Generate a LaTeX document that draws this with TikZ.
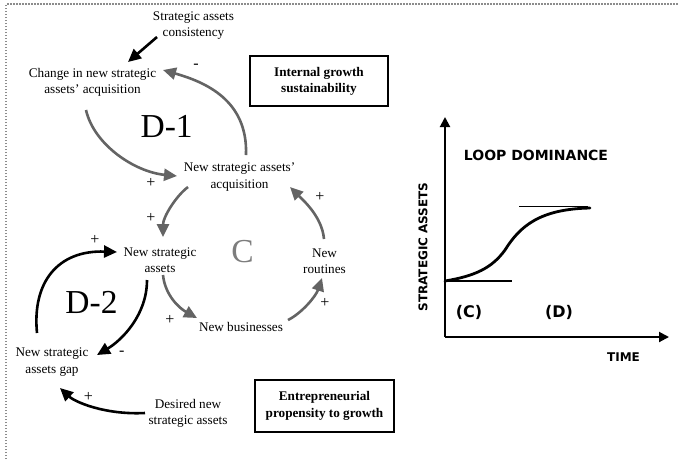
\documentclass[tikz,border=0pt]{standalone}
\usepackage{fontspec}
\setmainfont{Liberation Serif}
\newfontfamily\chartfont{DejaVu Sans}
\usetikzlibrary{arrows.meta}
\definecolor{linkgray}{RGB}{100,100,100}
\definecolor{loopgray}{RGB}{125,125,125}
\definecolor{framegray}{RGB}{140,140,140}
\tikzset{
  varlabel/.style={font=\fontsize{13.2}{16.3}\selectfont, align=center, inner sep=0pt},
  looplabel/.style={font=\fontsize{33.5}{36}\selectfont, inner sep=0pt},
  polarity/.style={font=\fontsize{16}{18}\selectfont, inner sep=0pt},
  notebox/.style={draw, line width=1.8pt, align=center, inner sep=0pt,
    font=\bfseries\fontsize{13.2}{16.3}\selectfont},
  causal/.style={line width=2.6pt, -{Triangle[length=13pt,width=12pt]}},
  blacklink/.style={causal, draw=black},
  graylink/.style={causal, draw=linkgray},
  charttext/.style={font=\chartfont\bfseries\fontsize{14}{16}\selectfont, inner sep=0pt},
  phasetext/.style={font=\chartfont\bfseries\fontsize{16}{18}\selectfont, inner sep=0pt},
  axislabel/.style={font=\chartfont\bfseries\fontsize{12}{14}\selectfont, inner sep=0pt},
  chartaxis/.style={line width=2pt, -{Triangle[length=10pt,width=10pt]}},
}
\begin{document}
\begin{tikzpicture}[x=1pt, y=-1pt]
\useasboundingbox (0,0) rectangle (679,459);

% dotted frame on the top and left edges
\draw[framegray, line width=1.3pt, dash pattern=on 1.5pt off 1.5pt]
  (6,459) -- (6,4) -- (679,4);

% ---------- causal loop diagram ----------
\node[varlabel] (sac)  at (193.5,25.5) {Strategic assets\\consistency};
\node[varlabel] (chg)  at (92.5,82.5)  {Change in new strategic\\assets' acquisition};
\node[varlabel] (nsaa) at (239.5,177)  {New strategic assets'\\acquisition};
\node[varlabel] (nsa)  at (160,260)    {New strategic\\assets};
\node[varlabel] (rout) at (324.5,261)  {New\\routines};
\node[varlabel] (nbus) at (241,327)    {New businesses};
\node[varlabel] (gap)  at (52,362)     {New strategic\\assets gap};
\node[varlabel] (des)  at (188,413.5)  {Desired new\\strategic assets};

\node[looplabel] (d1) at (166.7,126) {D-1};
\node[looplabel] (d2) at (91.5,302.5) {D-2};
\node[looplabel, text=loopgray] (cl) at (242.5,251.5) {C};

\node[notebox, minimum width=138pt, minimum height=50pt] (box1) at (319,81)
  {Internal growth\\sustainability};
\node[notebox, minimum width=139pt, minimum height=52pt] (box2) at (324.5,406)
  {Entrepreneurial\\propensity to growth};

% links
\draw[blacklink] ([shift={(-36.5,11.5)}]sac.center) -- ([shift={(35.5,-20.5)}]chg.center);
\draw[graylink] ([shift={(-6.5,27.5)}]chg.center)
  .. controls +(8,35) and +(-42,-4) .. ([shift={(-62.5,-1)}]nsaa.center);
\draw[graylink] ([shift={(6.5,-22)}]nsaa.center)
  .. controls +(2,-55) and +(42,12) .. ([shift={(70.5,-12.5)}]chg.center);
\draw[graylink] ([shift={(-51.5,10)}]nsaa.center)
  .. controls +(-12,9) and +(0,-20) .. ([shift={(3,-23)}]nsa.center);
\draw[graylink] ([shift={(-0.5,-22)}]rout.center)
  .. controls +(-2,-22) and +(14,14) .. ([shift={(50.5,10)}]nsaa.center);
\draw[graylink] ([shift={(3,15)}]nsa.center)
  .. controls +(2,20) and +(-18,-10) .. ([shift={(-44,-9)}]nbus.center);
\draw[graylink] ([shift={(47,-7)}]nbus.center)
  .. controls +(14,-7) and +(-6,18) .. ([shift={(-2.5,17)}]rout.center);
\draw[blacklink] ([shift={(-15,-29)}]gap.center)
  .. controls +(-5,-51) and +(-59,-2) .. ([shift={(-43,-8)}]nsa.center);
\draw[blacklink] ([shift={(-13,20)}]nsa.center)
  .. controls +(0,35) and +(25,-15) .. ([shift={(45,-7)}]gap.center);
\draw[blacklink] ([shift={(-43,-0.5)}]des.center)
  .. controls +(-40,2) and +(15,14) .. ([shift={(8,26)}]gap.center);

% polarities
\node[polarity] (p1) at (196,66)    {-};
\node[polarity] (p2) at (151,183.3) {+};
\node[polarity] (p3) at (151,218.3) {+};
\node[polarity] (p4) at (320,196.7) {+};
\node[polarity] (p5) at (170,320)   {+};
\node[polarity] (p6) at (325,303.3) {+};
\node[polarity] (p7) at (95,240)    {+};
\node[polarity] (p8) at (121.7,353.3) {-};
\node[polarity] (p9) at (88.3,396.7) {+};

% ---------- loop dominance chart ----------
\coordinate (origin) at (445,337);
\draw[chartaxis] (origin) -- (445,117);
\draw[chartaxis] (origin) -- (669,337);
\draw[line width=1.3pt] (445,281) -- (512,281);
\draw[line width=1.8pt] (519,206.5) -- (588,206.5);
\draw[line width=2.8pt, line cap=round]
  (445,281) .. controls (475,276) and (492,268) .. (505,250)
            .. controls (520,226) and (540,209) .. (590,208);

\node[charttext] (title) at (536,155) {LOOP DOMINANCE};
\node[phasetext] (phc) at (469,312) {(C)};
\node[phasetext] (phd) at (559,312) {(D)};
\node[axislabel] (tlab) at (623.5,357) {TIME};
\node[axislabel, rotate=90] (ylab) at (423,247) {STRATEGIC ASSETS};
\end{tikzpicture}
\end{document}
